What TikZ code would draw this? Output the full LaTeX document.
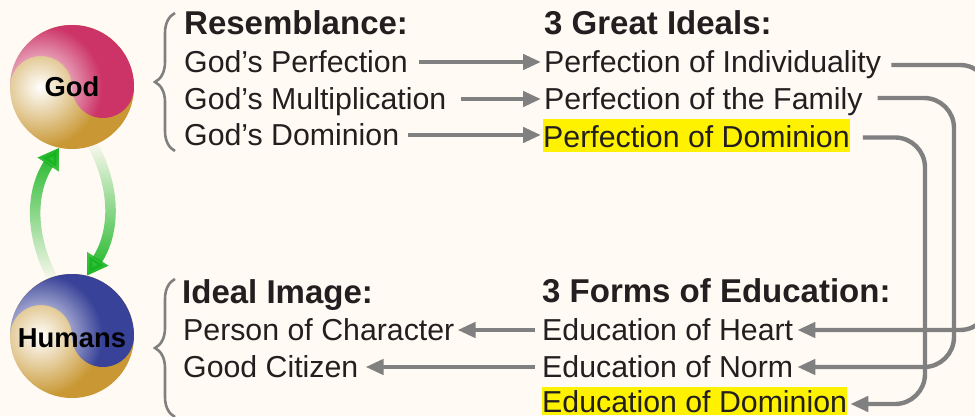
\documentclass[tikz,border=0pt]{standalone}
\usepackage{fontspec}
\setmainfont{Liberation Sans}
\usetikzlibrary{arrows.meta,decorations.pathreplacing,fadings}
\definecolor{paper}{RGB}{255,250,243}
\definecolor{inktext}{RGB}{35,31,32}
\definecolor{flowgray}{RGB}{128,128,128}
\definecolor{ballgold}{RGB}{201,152,53}
\definecolor{godpink}{RGB}{204,51,102}
\definecolor{humanblue}{RGB}{56,66,152}
\definecolor{arrowgreen}{RGB}{20,180,30}
\pgfdeclareradialshading{goldshade}{\pgfpoint{0bp}{0bp}}{color(0bp)=(white); color(12bp)=(ballgold); color(50bp)=(ballgold)}
\pgfdeclareradialshading{pinkshade}{\pgfpoint{0bp}{0bp}}{color(0bp)=(white); color(12.5bp)=(godpink); color(50bp)=(godpink)}
\pgfdeclareradialshading{blueshade}{\pgfpoint{0bp}{0bp}}{color(0bp)=(white); color(12.5bp)=(humanblue); color(50bp)=(humanblue)}
\tikzfading[name=fadeup, bottom color=transparent!100, top color=transparent!0]
\tikzfading[name=fadedown, top color=transparent!100, bottom color=transparent!0]
\tikzset{
  itemtext/.style={anchor=west, inner sep=0pt, text=inktext, text height=24pt, text depth=3pt, font=\fontsize{30.3}{34}\selectfont},
  headtext/.style={anchor=base west, inner sep=0pt, text=inktext, font=\fontsize{33}{36}\selectfont\bfseries},
  balltext/.style={inner sep=0pt, text=black, font=\fontsize{27.4}{30}\selectfont\bfseries},
  flowline/.style={draw=flowgray, line width=4.4pt, -{Triangle[width=15pt,length=18pt]}},
  greenline/.style={draw=arrowgreen, line width=10.5pt, -{Triangle[width=24pt,length=20pt]}},
  bracket/.style={draw=flowgray, line width=2.6pt, decorate, decoration={brace, amplitude=20pt}},
}
\begin{document}
\begin{tikzpicture}[x=1pt,y=1pt]
\clip (0,0) rectangle (975,416);
\fill[paper] (0,0) rectangle (975,416);
\foreach \ballname/\bally/\balltop in {godball/329/pinkshade, humansball/80/blueshade}{
\node[circle, minimum size=124pt, inner sep=0pt] (\ballname) at (72,\bally){};
\begin{scope}
\clip (72,\bally) circle (62);
\shade[shading=goldshade] (40,\bally) circle (125);
\clip (10,\bally) arc (180:0:62) arc (0:-180:31) arc (0:180:31) -- cycle;
\shade[shading=\balltop] (40,\bally) circle (125);
\end{scope}
}
\node[balltext] (godtext) at (72,329){God};
\node[balltext] (humanstext) at (72,78){Humans};
\draw[greenline, path fading=fadeup] (humansball.109) to[bend left=30] (godball.258);
\draw[greenline, path fading=fadedown] (godball.290) to[bend left=30] (humansball.76);
\coordinate (topbracetop) at (175,403);
\coordinate (topbracebot) at (175,265);
\coordinate (lowbracetop) at (175,137);
\coordinate (lowbracebot) at (175,-1);
\draw[bracket] (topbracebot) -- (topbracetop);
\draw[bracket] (lowbracebot) -- (lowbracetop);
\node[headtext] (resemble) at (184,381){Resemblance:};
\node[itemtext] (res1) at (184,354){God's Perfection};
\node[itemtext] (res2) at (184,317){God's Multiplication};
\node[itemtext] (res3) at (184,281){God's Dominion};
\node[headtext] (ideals) at (544,381){3 Great Ideals:};
\node[itemtext] (ideal1) at (544,354){Perfection of Individuality};
\node[itemtext] (ideal2) at (544,317){Perfection of the Family};
\node[itemtext, fill=yellow, text height=28pt, text depth=5pt] (ideal3) at (543,280.5){Perfection of Dominion};
\node[headtext] (image) at (182,113){Ideal Image:};
\node[itemtext] (image1) at (183,86){Person of Character};
\node[itemtext] (image2) at (183,49){Good Citizen};
\node[headtext] (forms) at (542,114){3 Forms of Education:};
\node[itemtext] (edu1) at (542,86){Education of Heart};
\node[itemtext] (edu2) at (542,49){Education of Norm};
\node[itemtext, fill=yellow, text height=25pt, text depth=3pt] (edu3) at (542,15){Education of Dominion};
\coordinate (outer1) at (990,200);
\coordinate (outer2) at (954,200);
\coordinate (outer3) at (925,200);
\draw[flowline, shorten <=11pt, shorten >=3pt] (res1) -- (ideal1);
\draw[flowline, shorten <=14pt, shorten >=3pt] (res2) -- (ideal2);
\draw[flowline, shorten <=9pt, shorten >=2pt] (res3.east) -- (res3.east -| ideal3.west);
\draw[flowline, shorten <=7pt, shorten >=3pt] (edu1) -- (image1);
\draw[flowline, shorten <=7pt, shorten >=7pt] (edu2) -- (image2);
\draw[flowline, rounded corners=30pt, shorten <=10pt, shorten >=4pt] ([yshift=-3pt]ideal1.east) -| (outer1) |- (edu1.east);
\draw[flowline, rounded corners=30pt, shorten <=15pt, shorten >=4pt] ([yshift=1pt]ideal2.east) -| (outer2) |- (edu2.east);
\draw[flowline, rounded corners=30pt, shorten <=13pt, shorten >=3pt] ([yshift=-2pt]ideal3.east) -| (outer3) |- ([yshift=-3pt]edu3.east);
\end{tikzpicture}
\end{document}
